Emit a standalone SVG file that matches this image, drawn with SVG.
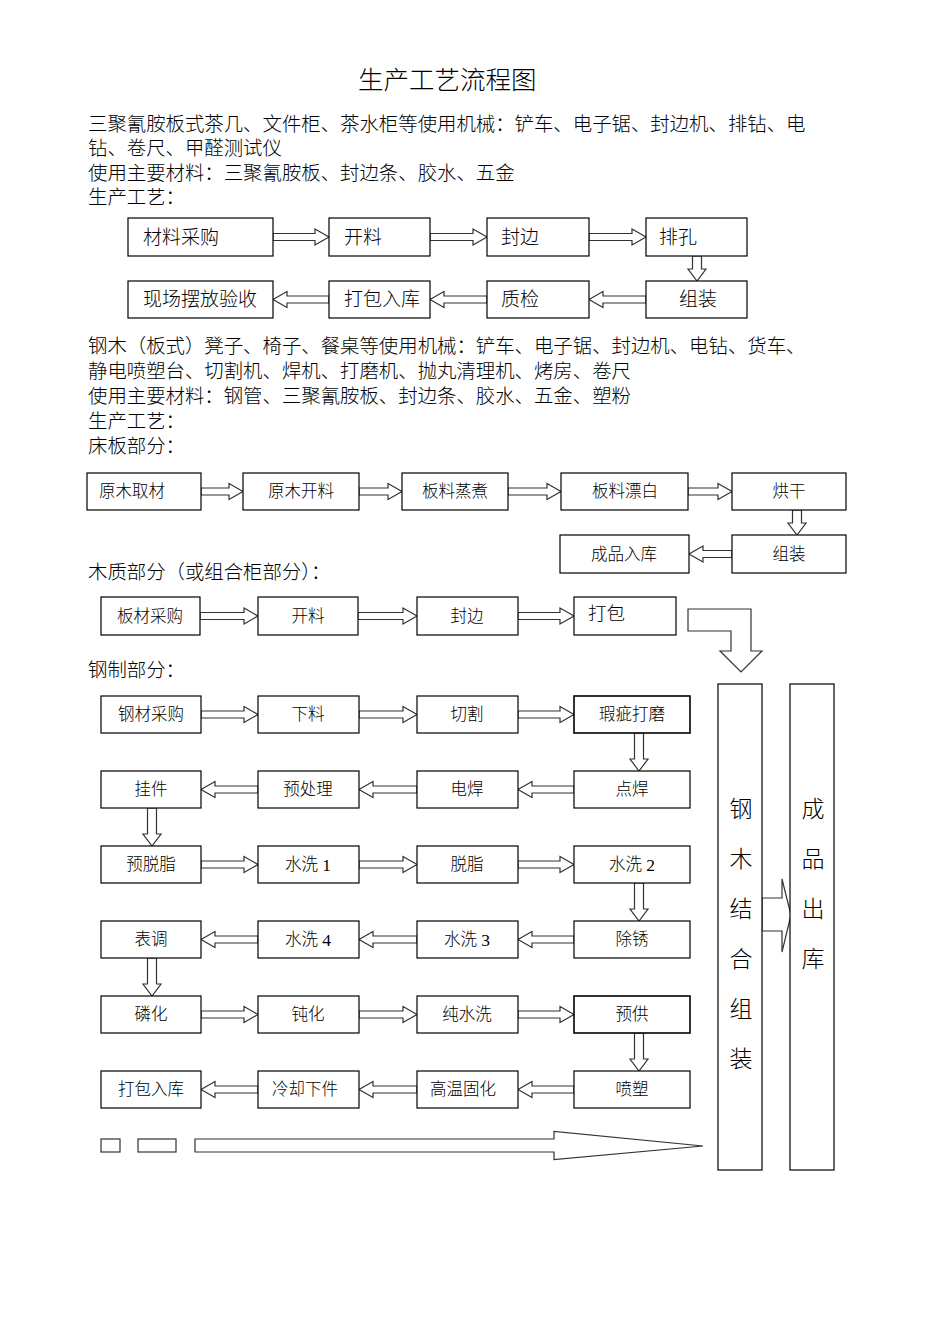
<svg xmlns="http://www.w3.org/2000/svg" width="950" height="1344" viewBox="0 0 950 1344">
<style>
.bg{fill:#fff}
.box{fill:#fff;stroke:#000;stroke-width:1.2}
.thick{stroke-width:1.6}
.arr{fill:#fff;stroke:#333;stroke-width:1.2;stroke-linejoin:miter}
text{font-family:"Liberation Serif","Noto Sans CJK SC",serif;fill:#000;dominant-baseline:central;font-weight:300}
.ln{font-size:19.4px}
.title{font-size:25.5px}
.b19{font-size:19px}
.b16{font-size:16.5px;text-anchor:middle}
.tall{font-size:23px;text-anchor:middle}
.dg{font-size:17.5px}
</style>
<rect class="bg" x="0" y="0" width="950" height="1344"/>

<g id="texts">
<text class="title" x="358" y="80">生产工艺流程图</text>
<text class="ln" x="88" y="124">三聚氰胺板式茶几、文件柜、茶水柜等使用机械：铲车、电子锯、封边机、排钻、电</text>
<text class="ln" x="88" y="148">钻、卷尺、甲醛测试仪</text>
<text class="ln" x="88" y="173">使用主要材料：三聚氰胺板、封边条、胶水、五金</text>
<text class="ln" x="88" y="197">生产工艺：</text>
<text class="ln" x="88" y="346">钢木（板式）凳子、椅子、餐桌等使用机械：铲车、电子锯、封边机、电钻、货车、</text>
<text class="ln" x="88" y="371">静电喷塑台、切割机、焊机、打磨机、抛丸清理机、烤房、卷尺</text>
<text class="ln" x="88" y="396">使用主要材料：钢管、三聚氰胺板、封边条、胶水、五金、塑粉</text>
<text class="ln" x="88" y="421">生产工艺：</text>
<text class="ln" x="88" y="446">床板部分：</text>
<text class="ln" x="88" y="572">木质部分（或组合柜部分）：</text>
<text class="ln" x="88" y="670">钢制部分：</text>
</g>

<g id="connectors">
<polygon class="arr" points="273,233.5 315,233.5 315,229 329,237 315,245 315,240.5 273,240.5"/>
<polygon class="arr" points="430,233.5 473,233.5 473,229 487,237 473,245 473,240.5 430,240.5"/>
<polygon class="arr" points="589,233.5 632,233.5 632,229 646,237 632,245 632,240.5 589,240.5"/>
<polygon class="arr" points="692.5,256 701.5,256 701.5,269 706,269 697,281 688,269 692.5,269"/>
<polygon class="arr" points="646,296 603,296 603,291.5 589,299.5 603,307.5 603,303 646,303"/>
<polygon class="arr" points="487,296 444,296 444,291.5 430,299.5 444,307.5 444,303 487,303"/>
<polygon class="arr" points="329,296 287,296 287,291.5 273,299.5 287,307.5 287,303 329,303"/>

<polygon class="arr" points="201,488 229,488 229,483.5 243,491.5 229,499.5 229,495 201,495"/>
<polygon class="arr" points="359,488 388,488 388,483.5 402,491.5 388,499.5 388,495 359,495"/>
<polygon class="arr" points="508,488 547,488 547,483.5 561,491.5 547,499.5 547,495 508,495"/>
<polygon class="arr" points="688,488 718,488 718,483.5 732,491.5 718,499.5 718,495 688,495"/>
<polygon class="arr" points="792.5,510 801.5,510 801.5,523 806,523 797,535 788,523 792.5,523"/>
<polygon class="arr" points="732,550.5 703,550.5 703,546 689,554 703,562 703,557.5 732,557.5"/>

<polygon class="arr" points="200,612.5 244,612.5 244,608 258,616 244,624 244,619.5 200,619.5"/>
<polygon class="arr" points="358,612.5 403,612.5 403,608 417,616 403,624 403,619.5 358,619.5"/>
<polygon class="arr" points="518,612.5 560,612.5 560,608 574,616 560,624 560,619.5 518,619.5"/>
<polygon class="arr" points="688,609 751,609 751,651 762,651 741,672 720,651 731,651 731,631 688,631"/>

<polygon class="arr" points="201,711 244,711 244,706.5 258,714.5 244,722.5 244,718 201,718"/>
<polygon class="arr" points="359,711 403,711 403,706.5 417,714.5 403,722.5 403,718 359,718"/>
<polygon class="arr" points="518,711 560,711 560,706.5 574,714.5 560,722.5 560,718 518,718"/>
<polygon class="arr" points="634.5,733 643.5,733 643.5,759 648,759 639,771 630,759 634.5,759"/>

<polygon class="arr" points="574,786 532,786 532,781.5 518,789.5 532,797.5 532,793 574,793"/>
<polygon class="arr" points="417,786 373,786 373,781.5 359,789.5 373,797.5 373,793 417,793"/>
<polygon class="arr" points="258,786 215,786 215,781.5 201,789.5 215,797.5 215,793 258,793"/>
<polygon class="arr" points="147.5,808 156.5,808 156.5,834 161,834 152,846 143,834 147.5,834"/>

<polygon class="arr" points="201,861 244,861 244,856.5 258,864.5 244,872.5 244,868 201,868"/>
<polygon class="arr" points="359,861 403,861 403,856.5 417,864.5 403,872.5 403,868 359,868"/>
<polygon class="arr" points="518,861 560,861 560,856.5 574,864.5 560,872.5 560,868 518,868"/>
<polygon class="arr" points="634.5,883 643.5,883 643.5,909 648,909 639,921 630,909 634.5,909"/>

<polygon class="arr" points="574,936 532,936 532,931.5 518,939.5 532,947.5 532,943 574,943"/>
<polygon class="arr" points="417,936 373,936 373,931.5 359,939.5 373,947.5 373,943 417,943"/>
<polygon class="arr" points="258,936 215,936 215,931.5 201,939.5 215,947.5 215,943 258,943"/>
<polygon class="arr" points="147.5,958 156.5,958 156.5,984 161,984 152,996 143,984 147.5,984"/>

<polygon class="arr" points="201,1011 244,1011 244,1006.5 258,1014.5 244,1022.5 244,1018 201,1018"/>
<polygon class="arr" points="359,1011 403,1011 403,1006.5 417,1014.5 403,1022.5 403,1018 359,1018"/>
<polygon class="arr" points="518,1011 560,1011 560,1006.5 574,1014.5 560,1022.5 560,1018 518,1018"/>
<polygon class="arr" points="634.5,1033 643.5,1033 643.5,1059 648,1059 639,1071 630,1059 634.5,1059"/>

<polygon class="arr" points="574,1086 532,1086 532,1081.5 518,1089.5 532,1097.5 532,1093 574,1093"/>
<polygon class="arr" points="417,1086 373,1086 373,1081.5 359,1089.5 373,1097.5 373,1093 417,1093"/>
<polygon class="arr" points="258,1086 215,1086 215,1081.5 201,1089.5 215,1097.5 215,1093 258,1093"/>

<rect class="arr" x="101" y="1139" width="19" height="13"/>
<rect class="arr" x="138" y="1139" width="38" height="13"/>
<polygon class="arr" points="195,1139 554,1139 554,1131.5 703,1146 554,1159.5 554,1152 195,1152"/>
<polygon class="arr" points="762,898 782,898 782,879 791,915 782,952 782,931 762,931"/>
</g>

<g id="n-cailiao"><rect class="box" x="128" y="218" width="145" height="38"/><text class="b19" x="143" y="237">材料采购</text></g>
<g id="n-kailiao"><rect class="box" x="329" y="218" width="101" height="38"/><text class="b19" x="344" y="237">开料</text></g>
<g id="n-fengbian"><rect class="box" x="487" y="218" width="102" height="38"/><text class="b19" x="501" y="237">封边</text></g>
<g id="n-paikong"><rect class="box" x="646" y="218" width="101" height="38"/><text class="b19" x="659" y="237">排孔</text></g>
<g id="n-xianchang"><rect class="box" x="128" y="281" width="145" height="37"/><text class="b19" x="143" y="299.5">现场摆放验收</text></g>
<g id="n-dabao1"><rect class="box" x="329" y="281" width="101" height="37"/><text class="b19" x="344" y="299.5">打包入库</text></g>
<g id="n-zhijian"><rect class="box" x="487" y="281" width="102" height="37"/><text class="b19" x="501" y="299.5">质检</text></g>
<g id="n-zuzhuang1"><rect class="box" x="646" y="281" width="101" height="37"/><text class="b19" x="679" y="299.5">组装</text></g>

<g id="n-yuanmuqucai"><rect class="box" x="87" y="473" width="114" height="37"/><text class="b16" x="132" y="491.5">原木取材</text></g>
<g id="n-yuanmukailiao"><rect class="box" x="243" y="473" width="116" height="37"/><text class="b16" x="301" y="491.5">原木开料</text></g>
<g id="n-zhengzhu"><rect class="box" x="402" y="473" width="106" height="37"/><text class="b16" x="455" y="491.5">板料蒸煮</text></g>
<g id="n-piaobai"><rect class="box" x="561" y="473" width="127" height="37"/><text class="b16" x="625" y="491.5">板料漂白</text></g>
<g id="n-honggan"><rect class="box" x="732" y="473" width="114" height="37"/><text class="b16" x="789" y="491.5">烘干</text></g>
<g id="n-chengpin"><rect class="box" x="560" y="535" width="129" height="38"/><text class="b16" x="624" y="554">成品入库</text></g>
<g id="n-zuzhuang2"><rect class="box" x="732" y="535" width="114" height="38"/><text class="b16" x="789" y="554">组装</text></g>

<g id="n-bancai"><rect class="box" x="101" y="597" width="99" height="38"/><text class="b16" x="150" y="616">板材采购</text></g>
<g id="n-kailiao2"><rect class="box" x="258" y="597" width="100" height="38"/><text class="b16" x="308" y="616">开料</text></g>
<g id="n-fengbian2"><rect class="box" x="417" y="597" width="101" height="38"/><text class="b16" x="467" y="616">封边</text></g>
<g id="n-dabao2"><rect class="box" x="574" y="597" width="102" height="38"/><text class="b19" x="588" y="614" style="font-size:18.5px">打包</text></g>

<g id="n-gangcai"><rect class="box" x="101" y="696" width="100" height="37"/><text class="b16" x="151" y="714.5">钢材采购</text></g>
<g id="n-xialiao"><rect class="box" x="258" y="696" width="101" height="37"/><text class="b16" x="308" y="714.5">下料</text></g>
<g id="n-qiege"><rect class="box" x="417" y="696" width="101" height="37"/><text class="b16" x="467" y="714.5">切割</text></g>
<g id="n-xiaci"><rect class="box thick" x="574" y="696" width="116" height="37"/><text class="b16" x="632" y="714.5">瑕疵打磨</text></g>

<g id="n-guajian"><rect class="box" x="101" y="771" width="100" height="37"/><text class="b16" x="151" y="789.5">挂件</text></g>
<g id="n-yuchuli"><rect class="box" x="258" y="771" width="101" height="37"/><text class="b16" x="308" y="789.5">预处理</text></g>
<g id="n-dianhan"><rect class="box" x="417" y="771" width="101" height="37"/><text class="b16" x="467" y="789.5">电焊</text></g>
<g id="n-dianhan2"><rect class="box" x="574" y="771" width="116" height="37"/><text class="b16" x="632" y="789.5">点焊</text></g>

<g id="n-yutuozhi"><rect class="box" x="101" y="846" width="100" height="37"/><text class="b16" x="151" y="864.5">预脱脂</text></g>
<g id="n-shuixi1"><rect class="box" x="258" y="846" width="101" height="37"/><text class="b16" x="308" y="864.5">水洗 <tspan class="dg">1</tspan></text></g>
<g id="n-tuozhi"><rect class="box" x="417" y="846" width="101" height="37"/><text class="b16" x="467" y="864.5">脱脂</text></g>
<g id="n-shuixi2"><rect class="box" x="574" y="846" width="116" height="37"/><text class="b16" x="632" y="864.5">水洗 <tspan class="dg">2</tspan></text></g>

<g id="n-biaotiao"><rect class="box" x="101" y="921" width="100" height="37"/><text class="b16" x="151" y="939.5">表调</text></g>
<g id="n-shuixi4"><rect class="box" x="258" y="921" width="101" height="37"/><text class="b16" x="308" y="939.5">水洗 <tspan class="dg">4</tspan></text></g>
<g id="n-shuixi3"><rect class="box" x="417" y="921" width="101" height="37"/><text class="b16" x="467" y="939.5">水洗 <tspan class="dg">3</tspan></text></g>
<g id="n-chuxiu"><rect class="box" x="574" y="921" width="116" height="37"/><text class="b16" x="632" y="939.5">除锈</text></g>

<g id="n-linhua"><rect class="box" x="101" y="996" width="100" height="37"/><text class="b16" x="151" y="1014.5">磷化</text></g>
<g id="n-dunhua"><rect class="box" x="258" y="996" width="101" height="37"/><text class="b16" x="308" y="1014.5">钝化</text></g>
<g id="n-chunshuixi"><rect class="box" x="417" y="996" width="101" height="37"/><text class="b16" x="467" y="1014.5">纯水洗</text></g>
<g id="n-yugong"><rect class="box thick" x="574" y="996" width="116" height="37"/><text class="b16" x="632" y="1014.5">预供</text></g>

<g id="n-dabao3"><rect class="box" x="101" y="1071" width="100" height="37"/><text class="b16" x="151" y="1089.5">打包入库</text></g>
<g id="n-lengque"><rect class="box" x="258" y="1071" width="101" height="37"/><text class="b16" x="305" y="1089.5">冷却下件</text></g>
<g id="n-gaowen"><rect class="box" x="417" y="1071" width="101" height="37"/><text class="b16" x="463" y="1089.5">高温固化</text></g>
<g id="n-pensu"><rect class="box" x="574" y="1071" width="116" height="37"/><text class="b16" x="632" y="1089.5">喷塑</text></g>

<g id="n-gangmu"><rect class="box" x="718" y="684" width="44" height="486"/>
<text class="tall" x="741" y="809">钢</text><text class="tall" x="741" y="859">木</text><text class="tall" x="741" y="909">结</text><text class="tall" x="741" y="959">合</text><text class="tall" x="741" y="1009">组</text><text class="tall" x="741" y="1059">装</text></g>
<g id="n-chuku"><rect class="box" x="790" y="684" width="44" height="486"/>
<text class="tall" x="813" y="809">成</text><text class="tall" x="813" y="859">品</text><text class="tall" x="813" y="909">出</text><text class="tall" x="813" y="959">库</text></g>
</svg>
